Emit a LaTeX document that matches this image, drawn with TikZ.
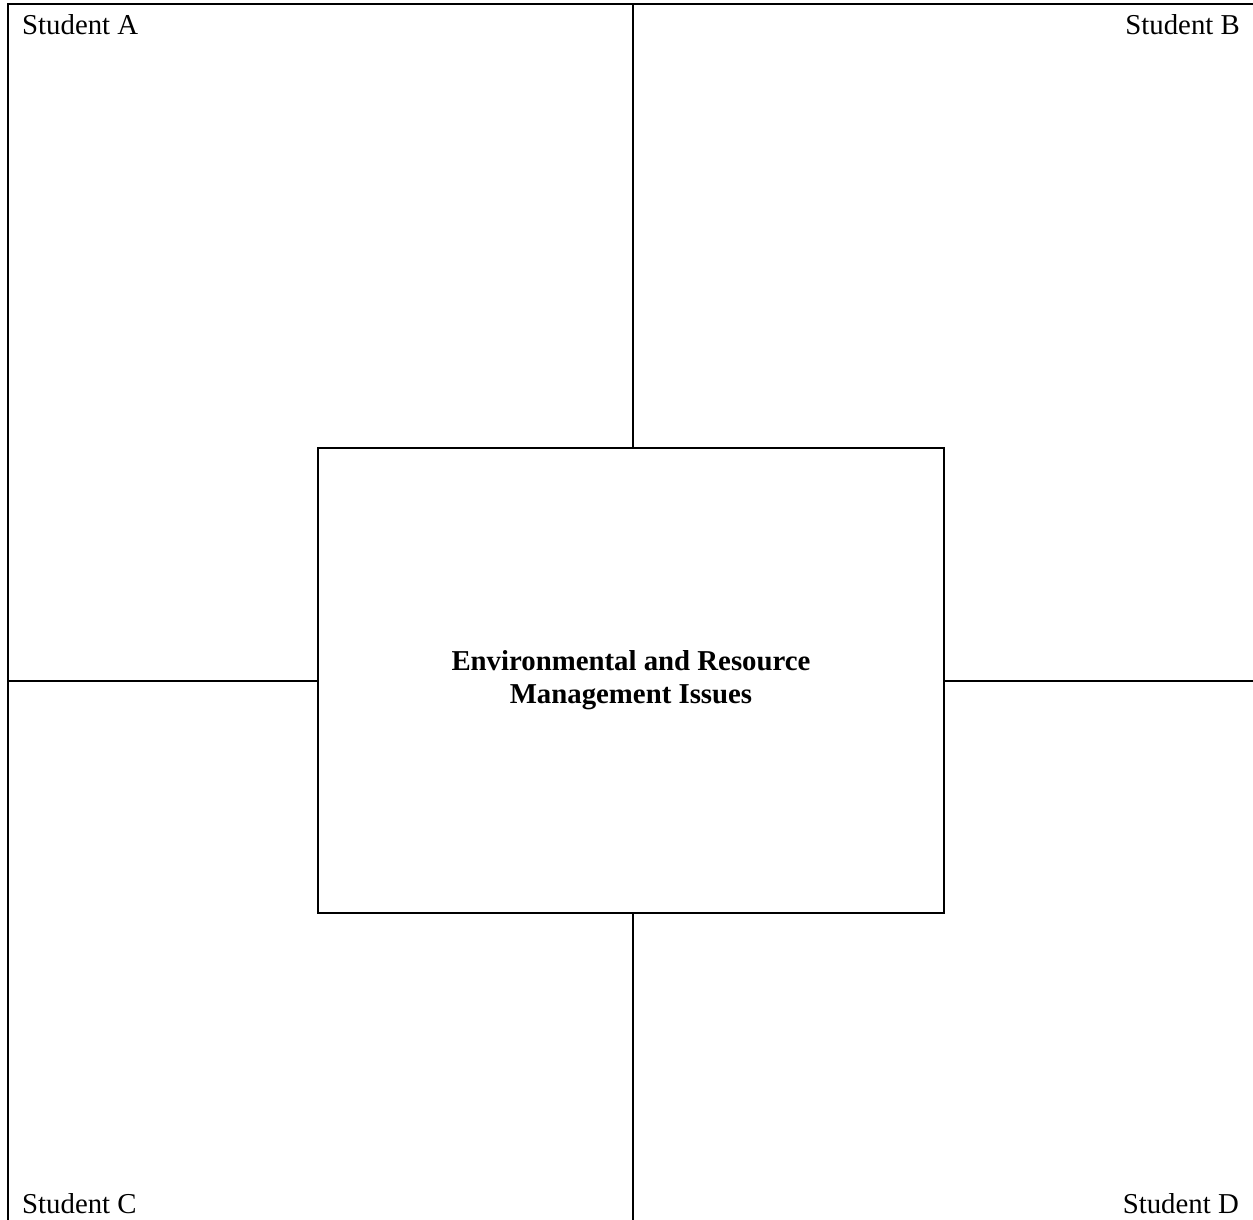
\documentclass[tikz,border=0pt]{standalone}
\usepackage{fontspec}
\setmainfont{Liberation Serif}
\begin{document}
\begin{tikzpicture}[x=1pt,y=-1pt,
  rule/.style={line width=2pt, line cap=rect},
  label/.style={font=\fontsize{28.8}{33}\selectfont, inner sep=0pt},
  centrebox/.style={draw, line width=2pt, minimum width=626pt, minimum height=465pt, inner sep=0pt, align=center, font=\fontsize{28.8}{33}\selectfont\bfseries}]
\useasboundingbox (0,0) rectangle (1253,1220);
\fill[white] (0,0) rectangle (1253,1220);
\node[centrebox] (box) at (631,680.5) {Environmental and Resource\\Management Issues};
\coordinate (tl) at (8,4);
\coordinate (tr) at (1253,4);
\coordinate (bl) at (8,1220);
\coordinate (vt) at (633,4);
\coordinate (vb) at (633,1220);
\coordinate (hl) at (8,681);
\coordinate (hr) at (1253,681);
\draw[rule] (tr) -- (tl) -- (bl);
\draw[rule] (vt) -- (vt |- box.north);
\draw[rule] (vt |- box.south) -- (vb);
\draw[rule] (hl) -- (hl -| box.west);
\draw[rule] (hl -| box.east) -- (hr);
\node[label, anchor=base west] (sa) at (22,35) {Student A};
\node[label, anchor=base east] (sb) at (1240,35) {Student B};
\node[label, anchor=base west] (sc) at (22,1213) {Student C};
\node[label, anchor=base east] (sd) at (1239,1213) {Student D};
\end{tikzpicture}
\end{document}
